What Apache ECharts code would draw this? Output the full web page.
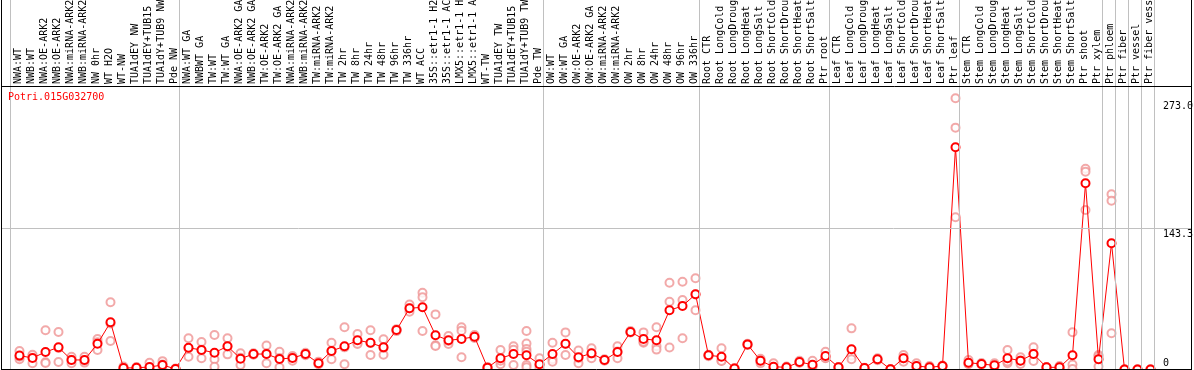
<!DOCTYPE html>
<html>
<head>
<meta charset="utf-8">
<script src="https://cdn.jsdelivr.net/npm/echarts@6/dist/echarts.min.js"></script>
<style>
html,body{margin:0;padding:0;background:#fff;}
#chart{width:1194px;height:370px;}
</style>
</head>
<body>
<div id="chart"></div>
<script>
const geneName = 'Potri.015G032700';

const categories = [
  'NWA:WT','NWB:WT','NWA:OE-ARK2','NWB:OE-ARK2','NWA:miRNA-ARK2','NWB:miRNA-ARK2','NW 0hr','WT H2O','WT-NW','TUA1dEY NW','TUA1dEY+TUB15 NW','TUA1dY+TUB9 NW','Pde NW',
  'NWA:WT GA','NWBWT GA','TW:WT','TW:WT GA','NWA:OE-ARK2 GA','NWB:OE-ARK2 GA','TW:OE-ARK2','TW:OE-ARK2 GA','NWA:miRNA-ARK2','NWB:miRNA-ARK2','TW:miRNA-ARK2','TW:miRNA-ARK2','TW 2hr','TW 8hr','TW 24hr','TW 48hr','TW 96hr','TW 336hr','WT ACC','35S::etr1-1 H2O','35S::etr1-1 ACC','LMX5::etr1-1 H2O','LMX5::etr1-1 ACC','WT-TW','TUA1dEY TW','TUA1dEY+TUB15 TW','TUA1dY+TUB9 TW','Pde TW',
  'OW:WT','OW:WT GA','OW:OE-ARK2','OW:OE-ARK2 GA','OW:miRNA-ARK2','OW:miRNA-ARK2','OW 2hr','OW 8hr','OW 24hr','OW 48hr','OW 96hr','OW 336hr',
  'Root CTR','Root LongCold','Root LongDrought','Root LongHeat','Root LongSalt','Root ShortCold','Root ShortDrought','Root ShortHeat','Root ShortSalt','Ptr root',
  'Leaf CTR','Leaf LongCold','Leaf LongDrought','Leaf LongHeat','Leaf LongSalt','Leaf ShortCold','Leaf ShortDrought','Leaf ShortHeat','Leaf ShortSalt','Ptr leaf',
  'Stem CTR','Stem LongCold','Stem LongDrought','Stem LongHeat','Stem LongSalt','Stem ShortCold','Stem ShortDrought','Stem ShortHeat','Stem ShortSalt','Ptr shoot','Ptr xylem',
  'Ptr phloem','Ptr fiber','Ptr vessel','Ptr fiber vessel'
];

const groupSizes = [13, 28, 12, 10, 10, 11, 1, 1, 1, 1];

const means = [
  14.1, 11.7, 17.8, 22.5, 9.7, 9.7, 26.2, 48.0, 1.5, 1.8, 2.5, 4.6, 0.5,
  22.1, 19.8, 17.1, 23.6, 11.0, 15.7, 15.7, 10.7, 11.7, 15.7, 6.3, 18.8, 23.6, 29.7, 27.1, 22.5, 40.1, 62.2, 63.2, 34.8, 29.7, 31.0, 33.3, 1.9, 11.4, 15.7, 14.4, 5.4,
  15.7, 26.2, 12.4, 16.4, 9.7, 17.8, 38.1, 31.0, 29.7, 60.2, 64.5, 76.4,
  14.4, 13.0, 1.0, 25.5, 8.9, 2.8, 2.2, 7.6, 4.9, 13.7,
  2.2, 20.5, 1.5, 10.4, 0.2, 11.4, 3.6, 2.2, 3.6, 225.8,
  6.9, 5.6, 4.2, 11.4, 9.0, 15.7, 2.2, 2.2, 14.4, 189.2, 10.4,
  128.2, 0, 0, 0
];

const replicates = [
  [18.8, 10.4, 13.0], [13.7, 6.3, 15.0], [39.8, 7.3, 6.6], [38.1, 7.6, 21.8], [13.0, 6.3, 9.8], [13.0, 7.0, 9.2], [31.0, 19.8, 27.8], [68.3, 29.0, 46.7], [3.0, 1.0, 0.5], [2.5, 1.5, 1.4], [6.9, 0.5, 0.1], [8.5, 5.0, 0.3], [1.0, 0.3, 0.2],
  [31.8, 13.0, 21.5], [27.9, 11.4, 20.0], [35.1, 10.4, 2.8], [31.8, 15.4, 23.6], [16.4, 4.6, 12.0], [16.5, 15.0, 15.6], [24.4, 6.4, 16.3], [18.1, 2.2, 11.8], [12.4, 8.9, 13.8], [17.0, 14.5, 15.6], [8.0, 5.5, 5.4], [27.1, 10.4, 18.9], [42.9, 5.4, 22.5], [36.1, 27.1, 26.0], [39.8, 14.7, 26.8], [30.7, 15.0, 22.0], [40.0, 41.0, 39.0], [66.0, 58.6, 62.0], [78.0, 73.4, 39.1], [56.0, 24.6, 23.8], [34.0, 25.9, 29.0], [42.9, 39.4, 12.4], [35.0, 32.0, 33.0], [2.5, 1.5, 1.5], [19.8, 5.4, 9.0], [23.7, 20.0, 4.6], [39.1, 26.4, 20.9, 18.1, 4.6, 2.2], [11.4, 4.0, 1.0],
  [27.1, 10.4, 8.0], [37.7, 14.7, 26.0], [19.2, 6.3, 11.7], [21.5, 11.4, 16.3], [10.5, 9.0, 9.6], [23.7, 11.4, 18.3], [39.0, 37.5, 37.8], [37.7, 27.1, 28.2], [42.9, 23.7, 20.2], [88.2, 68.9, 22.3], [89.2, 70.6, 31.7], [92.7, 60.2, 76.3],
  [15.0, 13.5, 14.7], [21.5, 8.9, 8.6], [1.5, 0.8, 0.7], [26.2, 25.0, 25.3], [11.0, 6.5, 9.2], [6.3, 1.2, 0.9], [3.0, 1.8, 1.8], [8.9, 6.8, 7.1], [8.9, 3.0, 2.8], [18.1, 11.4, 11.6],
  [2.5, 2.0, 2.1], [41.8, 14.1, 10.4], [1.8, 1.2, 1.5], [11.5, 9.5, 10.2], [0.3, 0.2, 0.1], [14.7, 8.0, 11.5], [6.3, 2.3, 2.2], [3.5, 1.6, 1.5], [4.0, 3.4, 3.4], [275.6, 245.7, 154.7],
  [9.7, 5.5, 5.5], [6.5, 5.0, 5.3], [6.3, 3.2, 3.1], [19.8, 6.3, 8.1], [12.4, 5.5, 9.1], [22.5, 8.6, 16.0], [2.5, 2.0, 2.1], [3.6, 1.5, 1.5], [37.8, 5.0, 0.4], [204.0, 201.0, 162.0], [14.7, 13.5, 3.0],
  [178.0, 171.5, 36.8], [0, 0, 0], [0, 0, 0], [0, 0, 0]
];

const yMax = 288;
const yGridValue = 143.3;
const yTickValues = [273.0, 143.3, 0];
const yTickLabels = ['273.0', '143.3', '0'];

// ---- build library structures ----
const boundaries = [0];
groupSizes.forEach(s => boundaries.push(boundaries[boundaries.length - 1] + s));

const repData = [];
replicates.forEach((arr, i) => arr.forEach(v => repData.push([i, v])));

const MONO = 'DejaVu Sans Mono';
const chart = echarts.init(document.getElementById('chart'), null, {renderer: 'canvas'});

const option = {
  animation: false,
  backgroundColor: '#fff',
  title: {
    text: geneName, left: 8, top: 92, padding: 0,
    textStyle: {color: '#ff0000', fontSize: 10, fontFamily: MONO, fontWeight: 'normal'}
  },
  grid: [
    {left: 12, top: 0, width: 1144, height: 86},          // labels
    {left: 10, top: 0, width: 1144, height: 369},         // group separators
    {left: 13, top: 86, width: 1144, height: 283.5},      // data
    {left: 1, top: 86, width: 1190, height: 283.5},       // horizontal grid line
    {left: 1162, top: 86, width: 30, height: 283.5}       // y labels
  ],
  xAxis: [
    {gridIndex: 0, type: 'category', data: categories, position: 'bottom',
     axisLine: {show: false}, axisTick: {show: false}, splitLine: {show: false},
     axisLabel: {inside: true, rotate: 90, margin: 2, interval: 0, color: '#000',
                 fontFamily: MONO, fontSize: 10}},
    {gridIndex: 1, type: 'value', min: 0, max: categories.length, show: false},
    {gridIndex: 2, type: 'category', data: categories, show: false},
    {gridIndex: 3, type: 'value', min: 0, max: 1, show: false},
    {gridIndex: 4, type: 'value', min: 0, max: 1, show: false}
  ],
  yAxis: [
    {gridIndex: 0, type: 'value', show: false},
    {gridIndex: 1, type: 'value', min: 0, max: 1, show: false},
    {gridIndex: 2, type: 'value', min: 0, max: yMax, show: false},
    {gridIndex: 3, type: 'value', min: 0, max: yMax, show: false},
    {gridIndex: 4, type: 'value', min: 0, max: yMax, show: false}
  ],
  series: [
    {
      type: 'line', xAxisIndex: 1, yAxisIndex: 1, data: [], silent: true,
      markLine: {silent: true, symbol: 'none', animation: false,
        label: {show: false},
        lineStyle: {color: '#c0c0c0', width: 1, type: 'solid'},
        data: boundaries.map(b => ({xAxis: b}))}
    },
    {
      type: 'line', xAxisIndex: 3, yAxisIndex: 3, data: [], silent: true,
      markLine: {silent: true, symbol: 'none', animation: false,
        label: {show: false},
        lineStyle: {color: '#c0c0c0', width: 1, type: 'solid'},
        data: [{yAxis: yGridValue}]}
    },
    {
      type: 'line', xAxisIndex: 4, yAxisIndex: 4, data: [], silent: true,
      markLine: {silent: true, symbol: 'none', animation: false,
        lineStyle: {color: 'rgba(0,0,0,0)', width: 1, type: 'solid'},
        data: yTickValues.map((v, k) => ({
          yAxis: v,
          label: {show: true, formatter: yTickLabels[k],
                  position: v === 0 ? 'insideStartTop' : 'insideStartBottom',
                  distance: [1, 1], color: '#000', fontFamily: MONO, fontSize: 10}
        }))}
    },
    {
      name: 'replicates', type: 'scatter', xAxisIndex: 2, yAxisIndex: 2,
      data: repData, symbol: 'emptyCircle', symbolSize: 8, z: 2,
      itemStyle: {color: '#ef9494', borderWidth: 1.1}
    },
    {
      name: 'mean', type: 'line', xAxisIndex: 2, yAxisIndex: 2,
      data: means, symbol: 'emptyCircle', symbolSize: 8, z: 3,
      lineStyle: {color: '#ff0000', width: 1},
      itemStyle: {color: '#ff0000', borderWidth: 1.2}
    }
  ],
  graphic: [
    {type: 'line', shape: {x1: 1.5, y1: 0, x2: 1.5, y2: 369.5}, style: {stroke: '#000', lineWidth: 1}, z: 100},
    {type: 'line', shape: {x1: 1191.5, y1: 0, x2: 1191.5, y2: 369.5}, style: {stroke: '#000', lineWidth: 1}, z: 100},
    {type: 'line', shape: {x1: 1, y1: 369.5, x2: 1192, y2: 369.5}, style: {stroke: '#000', lineWidth: 1}, z: 100},
    {type: 'line', shape: {x1: 1, y1: 86.5, x2: 1192, y2: 86.5}, style: {stroke: '#000', lineWidth: 1}, z: 100}
  ]
};
chart.setOption(option);
</script>
</body>
</html>
